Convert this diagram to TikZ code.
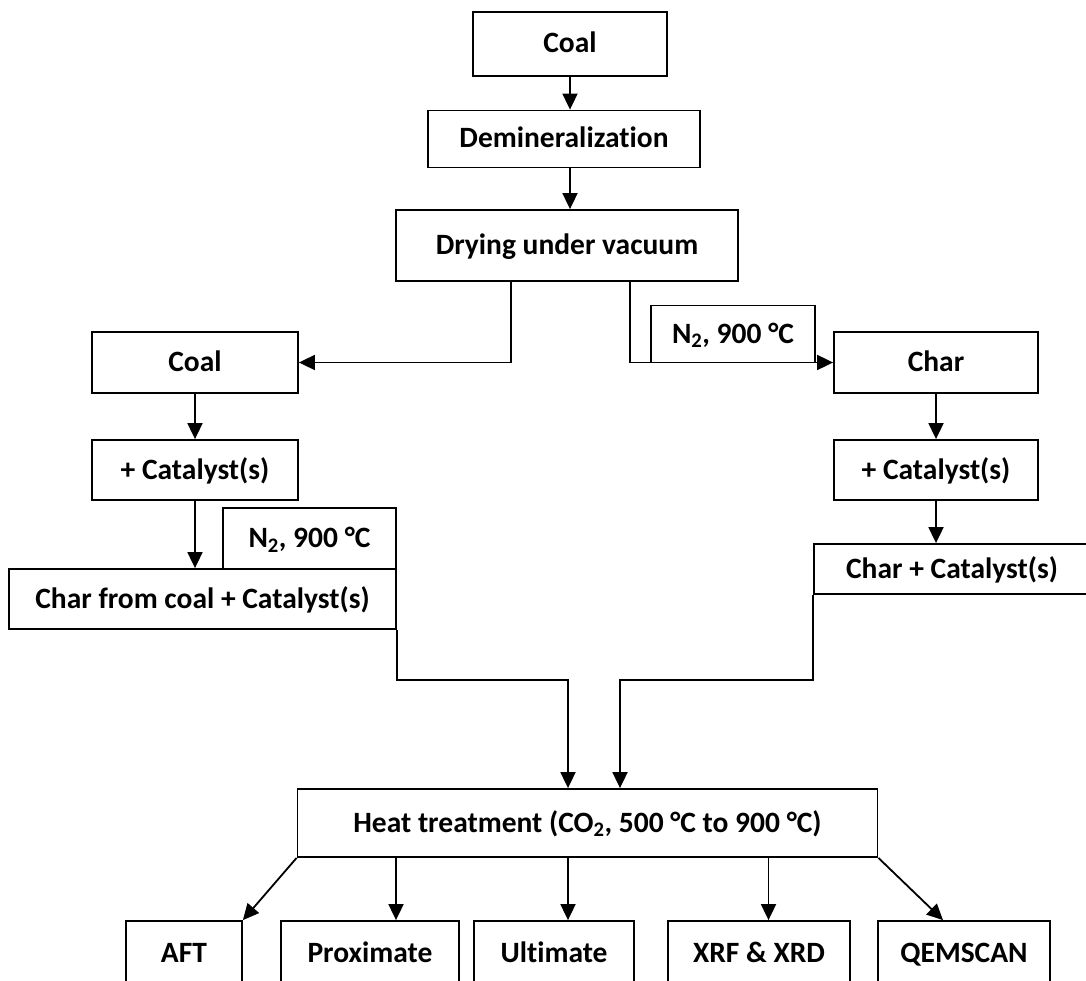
\documentclass[tikz,border=0pt]{standalone}
\usepackage{fontspec}
\setmainfont{Carlito}[Ligatures=NoCommon]
\usetikzlibrary{arrows.meta}

\tikzset{
  box/.style={draw, line width=1.8pt, inner sep=0pt, align=center,
    text height=22pt, text depth=4pt,
    font=\bfseries\fontsize{29.5}{33}\selectfont},
  arr/.style={line width=1.8pt, -{Triangle[length=16pt,width=15pt]}}
}

\begin{document}
\begin{tikzpicture}[x=1pt,y=1pt]
\clip (0,0) rectangle (1086,-981);
\node[box, minimum width=194, minimum height=64] (coal) at (570,-44) {Coal};
\node[box, minimum width=272, minimum height=57] (demin) at (564,-139) {Demineralization};
\node[box, minimum width=342, minimum height=71] (dry) at (567,-245.5) {Drying under vacuum};
\node[box, minimum width=206, minimum height=61] (coaltwo) at (195,-362.5) {Coal};
\node[box, minimum width=204, minimum height=61] (char) at (936,-362.5) {Char};
\node[box, minimum width=164, minimum height=57] (ntwoa) at (733,-334) {N\textsubscript{2}, 900 °C};
\node[box, minimum width=206, minimum height=60] (cata) at (195,-470) {+ Catalyst(s)};
\node[box, minimum width=204, minimum height=60] (catb) at (936,-470) {+ Catalyst(s)};
\node[box, minimum width=173, minimum height=61] (ntwob) at (309.5,-538.5) {N\textsubscript{2}, 900 °C};
\node[box, minimum width=387, minimum height=60] (ccat) at (202.5,-599) {Char from coal + Catalyst(s)};
\node[box, minimum width=276, minimum height=50] (charcat) at (952,-569) {Char + Catalyst(s)};
\node[box, minimum width=580, minimum height=68] (heat) at (587.5,-823) {Heat treatment (CO\textsubscript{2}, 500 °C to 900 °C)};
\node[box, minimum width=116, minimum height=64] (aft) at (184,-953) {AFT};
\node[box, minimum width=178, minimum height=64] (prox) at (370,-953) {Proximate};
\node[box, minimum width=160, minimum height=64] (ult) at (554,-953) {Ultimate};
\node[box, minimum width=182, minimum height=64] (xrf) at (759,-953) {XRF \& XRD};
\node[box, minimum width=172, minimum height=64] (qem) at (964,-953) {QEMSCAN};

\draw[arr] (coal.south) -- (coal.south |- demin.north);
\draw[arr] (coal.south |- demin.south) -- (coal.south |- dry.north);
\draw[arr] ([xshift=-56pt]dry.south) |- (coaltwo.east);
\draw[arr] ([xshift=63pt]dry.south) |- (char.west);
\draw[arr] (coaltwo.south) -- (cata.north);
\draw[arr] (char.south) -- (catb.north);
\draw[arr] (cata.south) -- (cata.south |- ccat.north);
\draw[arr] (catb.south) -- (catb.south |- charcat.north);
\draw[arr] (ccat.south east) -- ++(0,-50) -| ([xshift=-19.5pt]heat.north);
\draw[arr] (charcat.south west) -- ++(0,-85) -| ([xshift=32.5pt]heat.north);
\draw[arr] (heat.south west) -- (aft.north east);
\draw[arr] ([xshift=26pt]prox.north |- heat.south) -- ([xshift=26pt]prox.north);
\draw[arr] ([xshift=14pt]ult.north |- heat.south) -- ([xshift=14pt]ult.north);
\draw[arr] ([xshift=9.5pt]xrf.north |- heat.south) -- ([xshift=9.5pt]xrf.north);
\draw[arr] (heat.south east) -- ([xshift=-21pt]qem.north);
\end{tikzpicture}
\end{document}
